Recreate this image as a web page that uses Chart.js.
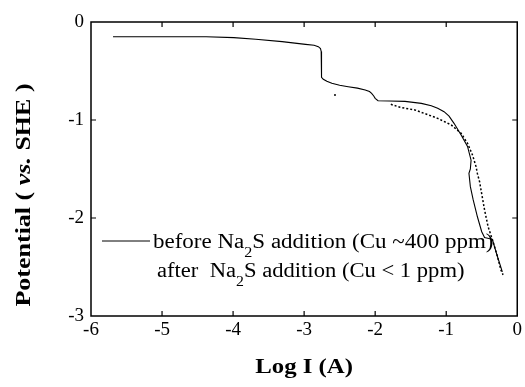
<!DOCTYPE html>
<html>
<head>
<meta charset="utf-8">
<script src="https://cdn.jsdelivr.net/npm/chart.js@4.4.0/dist/chart.umd.min.js"></script>
<style>
  html, body { margin: 0; padding: 0; background: #ffffff; }
  canvas { display: block; }
</style>
</head>
<body>
<canvas id="c" width="525" height="387"></canvas>
<script>
// Polarisation curves: potential vs log current
const xTicks = [-6, -5, -4, -3, -2, -1, 0];
const yTicks = [0, -1, -2, -3];

// before Na2S addition (solid)
const beforeLogI = [-5.69, -4.38, -3.99, -3.68, -3.31, -2.98, -2.86, -2.80, -2.77, -2.76, -2.76, -2.75, -2.73, -2.68, -2.61, -2.50, -2.38, -2.25, -2.14, -2.08, -2.05, -2.02, -2.00, -1.96, -1.80, -1.58, -1.35, -1.21, -1.12, -1.03, -0.96, -0.89, -0.79, -0.70, -0.65, -0.66, -0.68, -0.66, -0.62, -0.56, -0.50, -0.46, -0.40, -0.35, -0.28, -0.21];
const beforePotential = [-0.150, -0.150, -0.159, -0.176, -0.200, -0.228, -0.238, -0.252, -0.27, -0.30, -0.54, -0.565, -0.585, -0.605, -0.626, -0.645, -0.660, -0.675, -0.694, -0.71, -0.728, -0.755, -0.779, -0.803, -0.806, -0.810, -0.830, -0.854, -0.881, -0.915, -0.96, -1.034, -1.153, -1.27, -1.41, -1.50, -1.544, -1.68, -1.816, -1.99, -2.14, -2.20, -2.21, -2.22, -2.39, -2.55];

// after Na2S addition (dotted); null marks a break in the trace
const afterLogI = [-2.58, -2.53, null, -1.78, -1.65, -1.44, -1.31, -1.12, -0.93, -0.79, -0.70, -0.63, -0.58, -0.56, -0.53, -0.51, -0.46, -0.41, -0.35, -0.28, -0.23, -0.20];
const afterPotential = [-0.745, -0.745, null, -0.84, -0.87, -0.898, -0.932, -0.983, -1.05, -1.136, -1.238, -1.357, -1.476, -1.55, -1.63, -1.714, -1.918, -2.09, -2.22, -2.39, -2.53, -2.58];

const legendBefore = [{ t: 'before Na' }, { t: '2', sub: true }, { t: 'S addition (Cu ~400 ppm)' }];
const legendAfter = [{ t: 'after  Na' }, { t: '2', sub: true }, { t: 'S addition (Cu < 1 ppm)' }];
const xTitle = 'Log I (A)';
const yTitle = [{ t: 'Potential ( ' }, { t: 'vs.', it: true }, { t: ' SHE )' }];

const toPoints = (xs, ys) => xs.map((x, i) => ({ x: x, y: ys[i] }));

const SERIF = '"Liberation Serif", "Times New Roman", serif';

// draws a run of text segments (with optional subscript / italic) stretched horizontally
function drawRuns(ctx, runs, x, y, size, bold, sx, align) {
  const w = bold ? 'bold ' : '';
  const fontFor = r => (r.it ? 'italic ' : '') + w + (r.sub ? Math.round(size * 0.7) : size) + 'px ' + SERIF;
  let total = 0;
  runs.forEach(r => { ctx.font = fontFor(r); total += ctx.measureText(r.t).width; });
  ctx.save();
  ctx.translate(x, y);
  ctx.scale(sx, 1);
  let cx = align === 'center' ? -total / 2 : 0;
  ctx.textAlign = 'left';
  ctx.textBaseline = 'alphabetic';
  ctx.fillStyle = '#000';
  runs.forEach(r => {
    ctx.font = fontFor(r);
    ctx.fillText(r.t, cx, r.sub ? size * 0.45 : 0);
    cx += ctx.measureText(r.t).width;
  });
  ctx.restore();
}

const framePlugin = {
  id: 'frame',
  afterDraw(chart) {
    const { ctx, chartArea: a, scales } = chart;
    const xs = scales.x, ys = scales.y;
    ctx.save();
    ctx.strokeStyle = '#000';
    ctx.lineWidth = 1.5;
    ctx.strokeRect(a.left, a.top, a.right - a.left, a.bottom - a.top);
    ctx.lineWidth = 1.2;
    const tl = 5;
    ctx.beginPath();
    xTicks.forEach(v => {
      if (v === xs.min || v === xs.max) return;
      const px = xs.getPixelForValue(v);
      ctx.moveTo(px, a.bottom); ctx.lineTo(px, a.bottom - tl);
      ctx.moveTo(px, a.top); ctx.lineTo(px, a.top + tl);
    });
    yTicks.forEach(v => {
      if (v === ys.min || v === ys.max) return;
      const py = ys.getPixelForValue(v);
      ctx.moveTo(a.left, py); ctx.lineTo(a.left + tl, py);
      ctx.moveTo(a.right, py); ctx.lineTo(a.right - tl, py);
    });
    ctx.stroke();

    // legend
    ctx.lineWidth = 1;
    ctx.beginPath();
    ctx.moveTo(102, 241); ctx.lineTo(150, 241);
    ctx.stroke();
    drawRuns(ctx, legendBefore, 153, 248, 20, false, 1.15, 'left');
    drawRuns(ctx, legendAfter, 157, 277, 20, false, 1.13, 'left');

    // axis titles
    drawRuns(ctx, [{ t: xTitle }], (a.left + a.right) / 2, 373, 20, true, 1.24, 'center');
    ctx.save();
    ctx.translate(30, 195);
    ctx.rotate(-Math.PI / 2);
    drawRuns(ctx, yTitle, 0, 0, 20, true, 1.3, 'center');
    ctx.restore();
    ctx.restore();
  }
};

new Chart(document.getElementById('c'), {
  type: 'line',
  data: {
    datasets: [
      {
        label: 'before',
        data: toPoints(beforeLogI, beforePotential),
        borderColor: '#000',
        borderWidth: 1.1,
        pointRadius: 0,
        tension: 0,
        fill: false
      },
      {
        label: 'after',
        data: toPoints(afterLogI, afterPotential),
        borderColor: '#000',
        borderWidth: 1.5,
        borderDash: [2, 2],
        pointRadius: 0,
        tension: 0,
        fill: false,
        spanGaps: false
      }
    ]
  },
  options: {
    responsive: false,
    devicePixelRatio: 1,
    animation: false,
    layout: { padding: { left: 0, top: 22, right: 5, bottom: 0 } },
    plugins: { legend: { display: false }, tooltip: { enabled: false } },
    scales: {
      x: {
        type: 'linear',
        min: -6, max: 0,
        afterBuildTicks: s => { s.ticks = xTicks.map(v => ({ value: v })); },
        afterFit: s => { s.height = 71; },
        grid: { display: false, drawTicks: false },
        border: { display: false },
        ticks: { color: '#000', padding: 3, maxRotation: 0, font: { family: SERIF, size: 19 } }
      },
      y: {
        type: 'linear',
        min: -3, max: 0,
        afterBuildTicks: s => { s.ticks = yTicks.map(v => ({ value: v })); },
        afterFit: s => { s.width = 91; },
        grid: { display: false, drawTicks: false },
        border: { display: false },
        ticks: { color: '#000', padding: 7, font: { family: SERIF, size: 19 } }
      }
    }
  },
  plugins: [framePlugin]
});
</script>
</body>
</html>
